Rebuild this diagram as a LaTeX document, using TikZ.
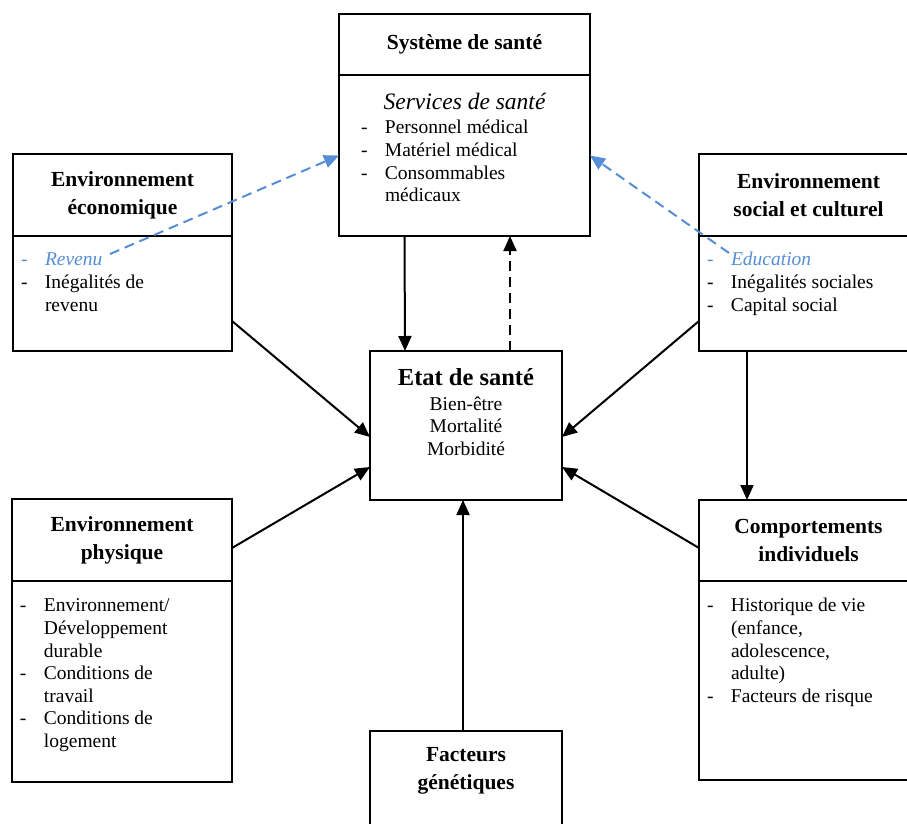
\documentclass[tikz,border=0pt]{standalone}
\usepackage{fontspec}
\setmainfont{Liberation Serif}
\usetikzlibrary{positioning, arrows.meta, calc}
\definecolor{bleu}{RGB}{85,142,213}
% top-aligned box content and list items
\newcommand{\haut}[4][8pt]{\parbox[c][#3][t]{#2}{\raggedright\leftskip=#1\relax\fontsize{19.5}{22.6}\selectfont #4}}
\newcommand{\tiret}[2][black]{\par\hangindent=24pt\hangafter=1\noindent{\color{#1}\strut\makebox[24pt][l]{-}#2}\par}

\begin{document}
\begin{tikzpicture}[
        x=1pt, y=-1pt,
        % STYLES
        tete/.style = {rectangle, draw, line width=2pt, outer sep=0pt, inner sep=0pt, align=center, anchor=north west, font=\fontsize{21.5}{28}\selectfont\bfseries},
        corps/.style = {rectangle, draw, line width=2pt, outer sep=0pt, inner sep=0pt},
        fleche/.style = {draw, line width=2pt, -{Triangle[length=15pt,width=13pt]}},
        retour/.style = {fleche, dash pattern=on 10pt off 6pt},
        lienbleu/.style = {retour, color=bleu}
    ]
        \useasboundingbox (0,0) rectangle (907,824);

        % --- NODES ---
        % Top: health system
        \node [tete, minimum width=251pt, minimum height=61pt, text depth=5pt] (sys) at (339,14) {Système de santé};
        \node [corps, below=0pt of sys] (sysliste) {\haut[22pt]{251pt}{161pt}{\vspace*{18pt}{\centering\fontsize{23.5}{24}\selectfont\itshape\strut Services de santé\par}\vspace{0pt}\tiret{Personnel médical}\tiret{Matériel médical}\tiret{Consommables\newline médicaux}}};

        % Left column
        \node [tete, minimum width=219pt, minimum height=82pt] (eco) at (13,154) {Environnement\\économique};
        \node [corps, below=0pt of eco] (ecoliste) {\haut{219pt}{115pt}{\vspace*{14pt}\tiret[bleu]{\itshape Revenu}\tiret{Inégalités de\newline revenu}}};
        \node [tete, minimum width=220pt, minimum height=82pt] (phys) at (12,499) {Environnement\\physique};
        \node [corps, below=0pt of phys] (physliste) {\haut{220pt}{201pt}{\vspace*{15pt}\tiret{Environnement/\newline Développement\newline durable}\tiret{Conditions de\newline travail}\tiret{Conditions de\newline logement}}};

        % Right column
        \node [tete, minimum width=219pt, minimum height=82pt] (social) at (699,154) {Environnement\\social et culturel};
        \node [corps, below=0pt of social] (socialliste) {\haut{219pt}{115pt}{\vspace*{14pt}\tiret[bleu]{\itshape Education}\tiret{Inégalités sociales}\tiret{Capital social}}};
        \node [tete, minimum width=219pt, minimum height=81pt] (comp) at (699,500) {Comportements\\individuels};
        \node [corps, below=0pt of comp] (compliste) {\haut{219pt}{199pt}{\vspace*{15pt}\tiret{Historique de vie\newline (enfance,\newline adolescence,\newline adulte)}\tiret{Facteurs de risque}}};

        % Centre: health status, genetic factors
        \node [corps, anchor=north west] (etat) at (370,351) {\haut[0pt]{192pt}{149pt}{\centering\vspace*{16pt}{\fontsize{24.5}{27}\selectfont\bfseries\strut Etat de santé\par}\vspace{1.5pt}Bien-être\par Mortalité\par Morbidité\par}};
        \node [corps, anchor=north west] (gen) at (370,731) {\haut[0pt]{192pt}{110pt}{\centering\fontsize{21.5}{28}\selectfont\bfseries\vspace*{11pt}\strut Facteurs\\génétiques}};

        % start points of the blue links
        \coordinate (revenu) at (110,254);
        \coordinate (education) at (729,253);

        % --- PATHS ---
        \path [fleche] ([xshift=-60pt]sysliste.south) -- ([xshift=-61pt]etat.north);
        \path [retour] ([xshift=44pt]etat.north) -- ([xshift=45.5pt]sysliste.south);
        \path [fleche] ([yshift=-27.5pt]ecoliste.east) -- ([yshift=-11.5pt]etat.west);
        \path [fleche] ([yshift=-27.5pt]socialliste.west) -- ([yshift=-11.5pt]etat.east);
        \path [fleche] ([yshift=-8pt]phys.east) -- ([yshift=-41.5pt]etat.west);
        \path [fleche] ([yshift=-7.5pt]comp.west) -- ([yshift=-41.5pt]etat.east);
        \path [fleche] ([xshift=-3pt]gen.north) -- ([xshift=-3pt]etat.south);
        \path [fleche] ([xshift=-61.5pt]socialliste.south) -- ([xshift=-61.5pt]comp.north);

        % Blue links to the health services
        \path [lienbleu] (revenu) -- (sysliste.west);
        \path [lienbleu] (education) -- (sysliste.east);

    \end{tikzpicture}
\end{document}
